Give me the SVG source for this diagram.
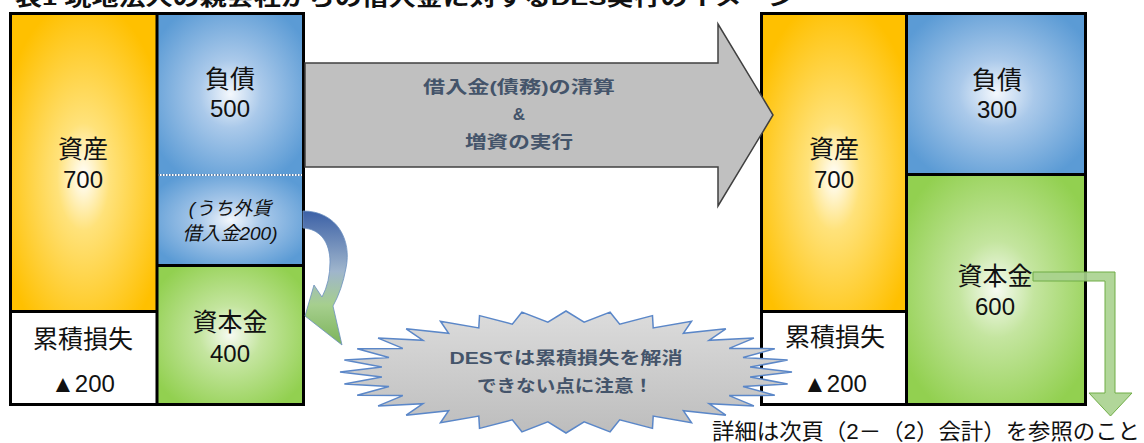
<svg xmlns="http://www.w3.org/2000/svg" width="1144" height="443" viewBox="0 0 1144 443">
<defs>
<style>
.t{font-family:"Liberation Sans","Noto Sans CJK JP",sans-serif;fill:#111;text-anchor:middle}
.j{font-size:25px}
.n{font-size:24px}
.it{font-size:19px;font-style:italic}
.b{font-family:"Liberation Sans","Noto Sans CJK JP",sans-serif;font-weight:bold;fill:#44546a;text-anchor:middle;font-size:17px}
.ln{fill:none;stroke:#000;stroke-width:3}
</style>
<radialGradient id="gy" cx="0.5" cy="0.55" r="0.6">
<stop offset="0" stop-color="#ffffff"/><stop offset="0.3" stop-color="#ffe27a"/><stop offset="1" stop-color="#ffc000"/>
</radialGradient>
<radialGradient id="gb" cx="0.5" cy="0.5" r="0.6">
<stop offset="0" stop-color="#f4f8fd"/><stop offset="0.35" stop-color="#aac9ea"/><stop offset="1" stop-color="#5b9bd5"/>
</radialGradient>
<radialGradient id="gg" cx="0.5" cy="0.5" r="0.6">
<stop offset="0" stop-color="#f7fbf2"/><stop offset="0.35" stop-color="#c4e59f"/><stop offset="1" stop-color="#92d050"/>
</radialGradient>
<linearGradient id="gs" x1="0" y1="0" x2="0" y2="1">
<stop offset="0" stop-color="#dcdcdc"/><stop offset="1" stop-color="#bdbdbd"/>
</linearGradient>
<linearGradient id="gc" x1="0" y1="0" x2="0" y2="1">
<stop offset="0" stop-color="#3b60a6"/><stop offset="0.45" stop-color="#9fb5cc"/><stop offset="0.7" stop-color="#a6cf8e"/><stop offset="1" stop-color="#7cb35a"/>
</linearGradient>
</defs>

<text x="15" y="5" font-family="'Liberation Sans','Noto Sans CJK JP',sans-serif" font-weight="bold" font-size="21" fill="#111" textLength="780" lengthAdjust="spacingAndGlyphs">表1 現地法人の親会社からの借入金に対するDES実行のイメージ</text>

<g id="left-table">
<g id="l-asset"><rect x="10" y="13" width="147" height="298" fill="url(#gy)"/>
<text class="t j" x="83" y="158">資産</text><text class="t n" x="83" y="188">700</text></g>
<g id="l-loss"><rect x="10" y="311" width="147" height="94" fill="#fff"/>
<text class="t j" x="83" y="348">累積損失</text><text class="t n" x="83" y="392">▲200</text></g>
<g id="l-debt"><rect x="157" y="13" width="147" height="162" fill="url(#gb)"/>
<text class="t j" x="230" y="88">負債</text><text class="t n" x="230" y="117">500</text></g>
<g id="l-fx"><rect x="157" y="175" width="147" height="90" fill="url(#gb)"/>
<line x1="157" y1="175" x2="303" y2="175" stroke="#5a7ea8" stroke-width="2"/>
<line x1="157" y1="175" x2="303" y2="175" stroke="#ffffff" stroke-width="2" stroke-dasharray="1.5 1.5"/>
<text class="t it" x="230" y="215">(うち外貨</text><text class="t it" x="230" y="240">借入金200)</text></g>
<g id="l-capital"><rect x="157" y="265" width="147" height="140" fill="url(#gg)"/>
<text class="t j" x="230" y="331">資本金</text><text class="t n" x="230" y="362">400</text></g>
<path class="ln" d="M10.5 13.5H303.5V404.5H10.5Z M157 13.5V404.5 M10.5 311.5H157 M157 265.5H303.5"/>
</g>

<g id="right-table">
<g id="r-asset"><rect x="761" y="13" width="146" height="298" fill="url(#gy)"/>
<text class="t j" x="834" y="158">資産</text><text class="t n" x="834" y="188">700</text></g>
<g id="r-loss"><rect x="761" y="311" width="146" height="94" fill="#fff"/>
<text class="t j" x="835" y="346">累積損失</text><text class="t n" x="835" y="392">▲200</text></g>
<g id="r-debt"><rect x="907" y="13" width="179" height="161" fill="url(#gb)"/>
<text class="t j" x="997" y="89">負債</text><text class="t n" x="997" y="118">300</text></g>
<g id="r-capital"><rect x="907" y="174" width="179" height="231" fill="url(#gg)"/>
<text class="t j" x="995" y="285">資本金</text><text class="t n" x="995" y="315">600</text></g>
<path class="ln" d="M761.5 13.5H1085.5V404.5H761.5Z M906.5 13.5V404.5 M761.5 311.5H906.5 M906.5 174.5H1085.5"/>
</g>

<g id="connectors">
<g id="big-arrow">
<path d="M305 63H718V24L773 115L718 206V167H305Z" fill="#c0c0c0" stroke="#404040" stroke-width="1.5" stroke-linejoin="miter"/>
<text class="b" x="519" y="93" textLength="192" lengthAdjust="spacingAndGlyphs">借入金(債務)の清算</text>
<text class="b" x="519" y="120">&amp;</text>
<text class="b" x="519" y="148" textLength="108" lengthAdjust="spacingAndGlyphs">増資の実行</text>
</g>
<path id="curved-arrow" d="M303 211C337 211 352 240 346 268Q342 290 333 306L342 345L305 316L314 285L322 297Q330 282 330 262C330 242 320 229 303 228Z" fill="url(#gc)" stroke="#6b8fbf" stroke-width="0.8"/>
<path id="green-arrow" d="M1033 272H1115V393H1132L1110.5 416L1089 393H1105V281H1033Z" fill="#a9d18e" fill-opacity="0.9" stroke="#70ad47" stroke-width="1"/>
</g>

<g id="starburst">
<polygon points="566,311 584.13,322.24 610.09,312.17 619.7,324.15 652.49,315.64 653.21,327.9 691.56,321.28 683.36,333.35 725.81,328.87 709.01,340.28 753.91,338.11 729.16,348.43 774.8,348.66 743.03,357.49 787.66,360.1 750.11,367.1 792,372 750.11,376.9 787.66,383.9 743.03,386.51 774.8,395.34 729.16,395.57 753.91,405.89 709.01,403.72 725.81,415.13 683.36,410.65 691.56,422.72 653.21,416.1 652.49,428.36 619.7,419.85 610.09,431.83 584.13,421.76 566,433 547.87,421.76 521.91,431.83 512.3,419.85 479.51,428.36 478.79,416.1 440.44,422.72 448.64,410.65 406.19,415.13 422.99,403.72 378.09,405.89 402.84,395.57 357.2,395.34 388.97,386.51 344.34,383.9 381.89,376.9 340,372 381.89,367.1 344.34,360.1 388.97,357.49 357.2,348.66 402.84,348.43 378.09,338.11 422.99,340.28 406.19,328.87 448.64,333.35 440.44,321.28 478.79,327.9 479.51,315.64 512.3,324.15 521.91,312.17 547.87,322.24" fill="url(#gs)" stroke="#5b87c8" stroke-width="1.5"/>
<text class="b" x="566" y="364" textLength="233" lengthAdjust="spacingAndGlyphs">DESでは累積損失を解消</text>
<text class="b" x="565" y="392" textLength="176" lengthAdjust="spacingAndGlyphs">できない点に注意！</text>
</g>

<text x="712" y="439" font-family="'Liberation Sans','Noto Sans CJK JP',sans-serif" font-size="22" fill="#111" textLength="428" lengthAdjust="spacingAndGlyphs">詳細は次頁（2－（2）会計）を参照のこと</text>
</svg>
